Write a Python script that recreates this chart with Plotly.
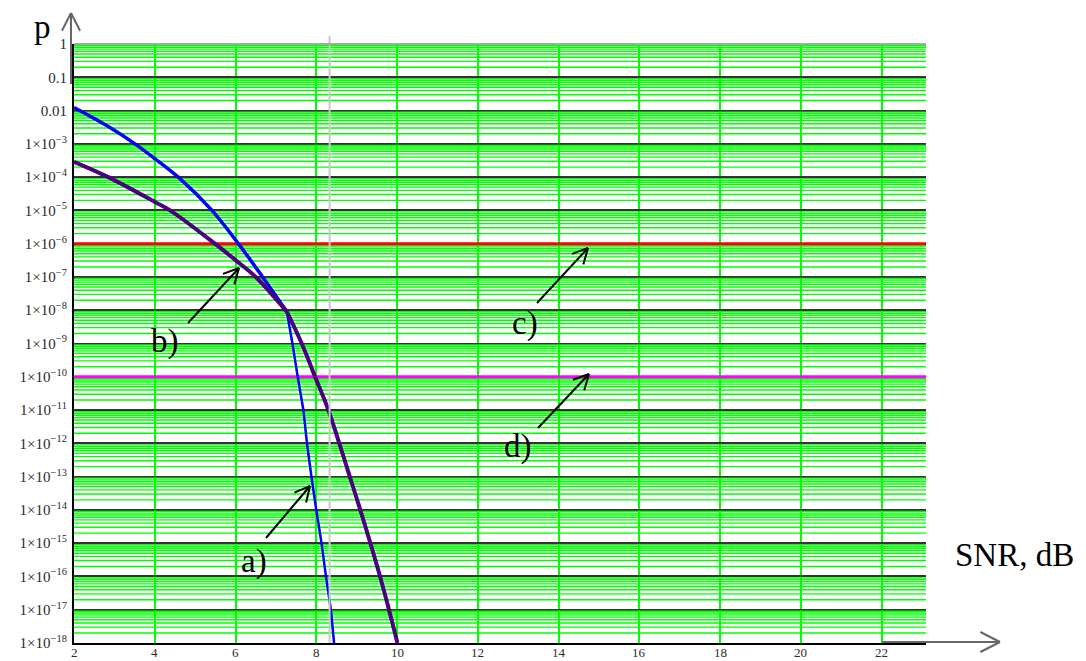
import math
import plotly.graph_objects as go

# Error probability p versus SNR (dB) for the two schemes
snr_a = [2.0, 2.85, 3.51, 4.0, 4.61, 5.40, 6.07, 6.67, 7.27, 7.41, 7.54,
         7.68, 7.77, 7.88, 8.0, 8.13, 8.24, 8.36, 8.44]
p_a = [1.23e-2, 3.3e-3, 1e-3, 3.6e-4, 9.3e-5, 1.05e-5, 1.0e-6, 1e-7, 9.1e-9, 1e-9,
       1e-10, 1e-11, 1e-12, 1e-13, 1e-14, 1e-15, 1e-16, 1e-17, 1e-18]

snr_b = [2.0, 2.85, 4.0, 4.38, 5.49, 6.0, 6.5, 7.27, 7.64, 7.97, 8.30, 8.57,
         8.83, 9.09, 9.34, 9.58, 9.80, 10.01]
p_b = [2.9e-4, 1.0e-4, 1.8e-5, 1e-5, 1e-6, 3.2e-7, 1e-7, 9.1e-9, 1e-9, 1e-10,
       1e-11, 1e-12, 1e-13, 1e-14, 1e-15, 1e-16, 1e-17, 1e-18]

# index of the point where both curves meet (the knee)
knee_a = 8
knee_b = 7

# Required error levels
p_level_c = 1e-6
p_level_d = 1e-10

# Trace cursor
cursor_snr = 8.33
cursor_p = 1e-11

x_min, x_max = 2.0, 23.1
x_ticks = [2, 4, 6, 8, 10, 12, 14, 16, 18, 20, 22]
decades = list(range(0, 19))
y_tickvals = [10.0 ** -k for k in decades]
y_ticktext = ["1", "0.1", "0.01"] + ["1\u00d710<sup>\u2212%d</sup>" % k for k in decades[3:]]
y_minor = [m * 10.0 ** -k for k in range(1, 19) for m in range(2, 10)]

W, H = 1086, 661
ML, MR, MT, MB = 74, 160, 44, 18
PW, PH = W - ML - MR, H - MT - MB

def paper_x(px):
    return (px - ML) / PW

def paper_y(py):
    return (H - MB - py) / PH

SERIF = "Liberation Serif, Times New Roman, serif"

fig = go.Figure()

# minor horizontal grid (2..9 within each decade)
gx, gy = [], []
for v in y_minor:
    gx += [x_min, x_max, None]
    gy += [v, v, None]
fig.add_trace(go.Scatter(x=gx, y=gy, mode="lines", line=dict(color="#00ff00", width=1.4),
                         hoverinfo="skip"))

fig.add_trace(go.Scatter(x=[x_min, x_max], y=[p_level_c, p_level_c], mode="lines",
                         line=dict(color="#ff0000", width=3), hoverinfo="skip"))
fig.add_trace(go.Scatter(x=[x_min, x_max], y=[p_level_d, p_level_d], mode="lines",
                         line=dict(color="#ff00ff", width=3), hoverinfo="skip"))

# curve a) : smooth upper branch and steep lower branch
fig.add_trace(go.Scatter(x=snr_a[:knee_a + 1], y=p_a[:knee_a + 1], mode="lines",
                         line=dict(color="#0000ff", width=3.5, shape="spline", smoothing=1.0)))
fig.add_trace(go.Scatter(x=snr_a[knee_a:], y=p_a[knee_a:], mode="lines",
                         line=dict(color="#0000ff", width=2.5, shape="spline", smoothing=0.6)))
# curve b)
fig.add_trace(go.Scatter(x=snr_b[:knee_b + 1], y=p_b[:knee_b + 1], mode="lines",
                         line=dict(color="#4b0082", width=4, shape="spline", smoothing=1.0)))
fig.add_trace(go.Scatter(x=snr_b[knee_b:], y=p_b[knee_b:], mode="lines",
                         line=dict(color="#4b0082", width=4, shape="spline", smoothing=1.3)))

shapes = []

def seg(x0, y0, x1, y1, color, width, dash=None):
    line = dict(color=color, width=width)
    if dash:
        line["dash"] = dash
    shapes.append(dict(type="line", xref="paper", yref="paper",
                       x0=paper_x(x0), y0=paper_y(y0), x1=paper_x(x1), y1=paper_y(y1),
                       line=line, layer="above"))

def arrow(tx, ty, hx, hy, color="#000000", width=2, head=17, spread=27):
    seg(tx, ty, hx, hy, color, width)
    ang = math.atan2(ty - hy, tx - hx)
    for s in (-1, 1):
        a = ang + s * math.radians(spread)
        seg(hx, hy, hx + head * math.cos(a), hy + head * math.sin(a), color, width)

# trace cursor cross-hair
shapes.append(dict(type="line", xref="x", yref="paper", x0=cursor_snr, x1=cursor_snr,
                   y0=0, y1=paper_y(36), line=dict(color="#c8c8c8", width=2), layer="above"))
shapes.append(dict(type="line", xref="paper", yref="y", x0=paper_x(5), x1=1,
                   y0=math.log10(cursor_p), y1=math.log10(cursor_p),
                   line=dict(color="#d0d0d0", width=1, dash="dash"), layer="above"))
# top frame edge
seg(ML, MT, W - MR, MT, "#a8a8a8", 2)

# axis arrows
arrow(71, 84, 71, 13, color="#666666", width=2, head=20, spread=27)
arrow(882, 642, 1000, 642, color="#666666", width=2, head=22, spread=27)

# pointer arrows to the curves and levels
arrow(266, 538, 310, 486)
arrow(188, 323, 239, 268)
arrow(537, 303, 588, 248)
arrow(538, 428, 589, 374)

annotations = []

def label(text, px, py, size=33):
    annotations.append(dict(text=text, xref="paper", yref="paper", x=paper_x(px), y=paper_y(py),
                            xanchor="center", yanchor="middle", showarrow=False,
                            font=dict(family=SERIF, size=size, color="#000000")))

label("p", 42, 27)
label("SNR, dB", 1014, 555, size=33)
label("a)", 254, 561)
label("b)", 165, 341)
label("c)", 525, 323)
label("d)", 518, 446)

# x tick labels, placed tight under the axis
for xv in x_ticks:
    annotations.append(dict(text=str(xv), xref="x", yref="paper", x=xv, y=paper_y(652),
                            xanchor="center", yanchor="middle", showarrow=False,
                            font=dict(family=SERIF, size=13, color="#2a2a2a")))

fig.update_layout(
    width=W, height=H,
    margin=dict(l=ML, r=MR, t=MT, b=MB, pad=0, autoexpand=False),
    paper_bgcolor="#ffffff", plot_bgcolor="#ffffff",
    showlegend=False,
    shapes=shapes,
    annotations=annotations,
    xaxis=dict(
        range=[x_min, x_max], tickmode="array", tickvals=x_ticks, automargin=False,
        showticklabels=False,
        ticks="", showgrid=True, gridcolor="#00ff00", gridwidth=1.5,
        zeroline=False, showline=True, linecolor="#000000", linewidth=2,
    ),
    yaxis=dict(
        type="log", range=[-18, 0], tickmode="array", tickvals=y_tickvals, automargin=False,
        ticktext=y_ticktext, ticks="", showgrid=True, gridcolor="#333333", gridwidth=2,
        zeroline=False, showline=True, linecolor="#000000", linewidth=2,
        tickfont=dict(family=SERIF, size=15, color="#2a2a2a"),
        ticklabelstandoff=2,
    ),
)

fig.write_html("out.html")
